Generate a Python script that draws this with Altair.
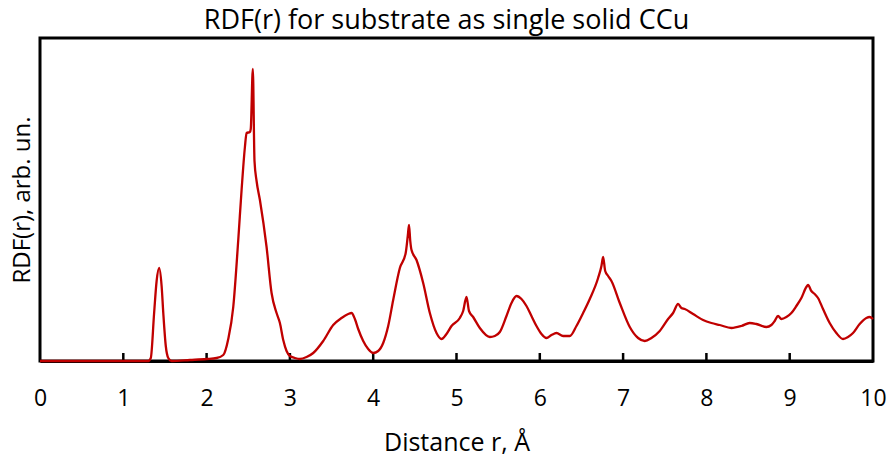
import altair as alt
import pandas as pd

# distance r (Å) and RDF value (arb. units)
r_vals = [0.0, 1.0, 1.3, 1.33, 1.37, 1.40, 1.43, 1.46, 1.48, 1.51, 1.54, 1.58, 1.8, 2.0, 2.12, 2.2,
          2.26, 2.32, 2.38, 2.42, 2.46, 2.48, 2.52, 2.53, 2.555, 2.575, 2.6, 2.64, 2.72, 2.78,
          2.84, 2.88, 2.92, 2.96, 3.0, 3.06, 3.12, 3.2, 3.28, 3.4, 3.52, 3.62, 3.7, 3.74, 3.78,
          3.82, 3.88, 3.94, 4.0, 4.06, 4.12, 4.18, 4.24, 4.32, 4.39, 4.415, 4.43, 4.445, 4.46,
          4.52, 4.6, 4.68, 4.76, 4.82, 4.88, 4.94, 5.04, 5.08, 5.12, 5.15, 5.2, 5.28, 5.4, 5.46,
          5.52, 5.6, 5.66, 5.72, 5.78, 5.84, 5.9, 5.96, 6.02, 6.08, 6.14, 6.2, 6.28, 6.36, 6.44,
          6.52, 6.6, 6.7, 6.74, 6.76, 6.785, 6.82, 6.86, 6.96, 7.08, 7.18, 7.26, 7.34, 7.44,
          7.54, 7.6, 7.66, 7.7, 7.74, 7.84, 7.96, 8.06, 8.16, 8.3, 8.42, 8.52, 8.6, 8.72, 8.78,
          8.82, 8.86, 8.9, 8.96, 9.02, 9.08, 9.14, 9.2, 9.22, 9.26, 9.3, 9.34, 9.4, 9.48, 9.56,
          9.64, 9.7, 9.76, 9.84, 9.92, 9.96, 10.0]
rdf_vals = [0, 0, 0, 3, 48, 80, 93, 75, 48, 15, 3, 0, 1, 2, 3, 6,
            22, 54, 121, 171, 214, 228, 229, 232, 292, 200, 180, 161, 114, 68,
            48, 38, 21, 10, 5, 3, 2, 4, 8, 20, 36, 43, 47, 48, 42,
            32, 20, 12, 8, 10, 18, 35, 61, 93, 108, 125, 136, 120, 111,
            101, 78, 48, 28, 22, 27, 35, 43, 50, 64, 50, 44, 33, 24, 25,
            29, 45, 58, 65, 62, 55, 45, 35, 27, 23, 26, 28, 25, 25, 35,
            48, 62, 83, 95, 104, 90, 85, 80, 58, 34, 23, 20, 23, 30,
            42, 48, 57, 53, 52, 47, 41, 38, 36, 33, 35, 38, 37, 34, 36,
            40, 45, 42, 44, 48, 55, 63, 74, 76, 70, 67, 63, 52, 38, 28,
            22, 24, 28, 37, 43, 44, 42]
tick_vals = [1, 2, 3, 4, 5, 6, 7, 8, 9]

FONT = "Open Sans"

df = pd.DataFrame({"r": r_vals, "g": rdf_vals})
ticks = pd.DataFrame({"t": tick_vals})

xscale = alt.Scale(domain=[0, 10], nice=False, zero=False)

line = alt.Chart(df).mark_line(color="#C00000", strokeWidth=2.3, interpolate="monotone").encode(
    x=alt.X("r:Q", scale=xscale,
            axis=alt.Axis(title="Distance r, Å", values=list(range(0, 11)), format="d",
                          ticks=False, grid=False, domainColor="black", domainWidth=3,
                          labelFont=FONT, labelFontSize=23, labelColor="black",
                          labelPadding=26, labelFlush=False,
                          titleFont=FONT, titleFontSize=25, titleFontWeight="normal",
                          titleColor="black", titlePadding=20)),
    y=alt.Y("g:Q", scale=alt.Scale(domain=[0, 323], nice=False),
            axis=alt.Axis(title="RDF(r), arb. un.", labels=False, ticks=False, grid=False,
                          domain=False, titleFont=FONT, titleFontSize=24,
                          titleFontWeight="normal", titleColor="black", titlePadding=6)),
)

tick_marks = alt.Chart(ticks).mark_rule(color="black", strokeWidth=2.5).encode(
    x=alt.X("t:Q", scale=xscale),
    y=alt.value(323),
    y2=alt.value(315),
)

chart = alt.layer(tick_marks, line).properties(
    width=833, height=323,
    padding={"left": 40, "top": 38, "right": 18, "bottom": 100},
    autosize=alt.AutoSizeParams(type="none"),
    background="white",
    title=alt.TitleParams("RDF(r) for substrate as single solid CCu", font=FONT,
                          fontSize=27, fontWeight="normal", color="black", offset=3,
                          dx=-10, anchor="middle"),
).configure_view(stroke="black", strokeWidth=3)

chart.save("out.html", embed_options={"renderer": "svg", "actions": False})
